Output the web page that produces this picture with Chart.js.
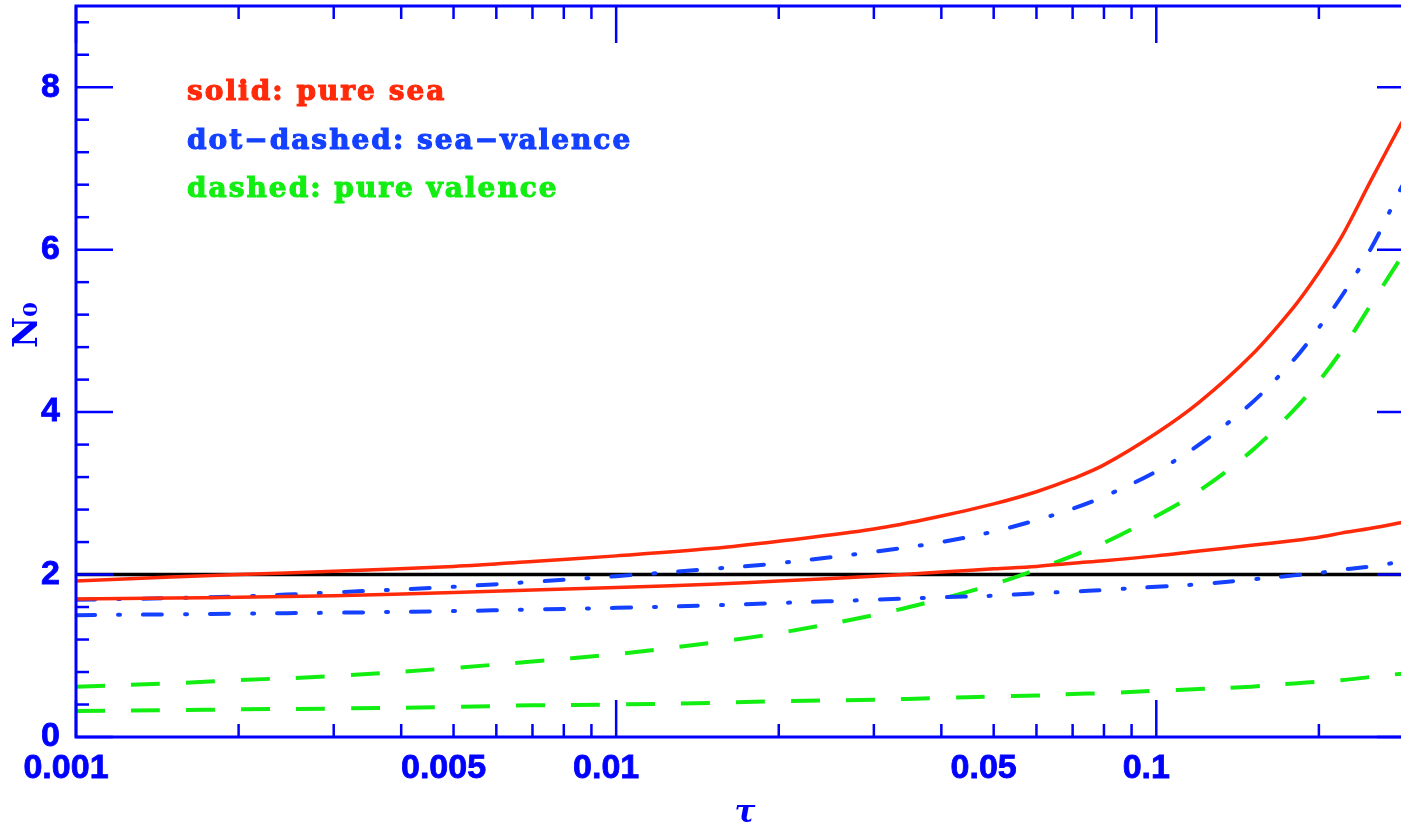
<!DOCTYPE html>
<html>
<head>
<meta charset="utf-8">
<script src="https://cdn.jsdelivr.net/npm/chart.js@4.4.0/dist/chart.umd.min.js"></script>
<style>
  html, body { margin: 0; padding: 0; background: #fff; overflow: hidden; width: 1401px; height: 825px; }
  /* the frame's right edge (tau = 0.3) sits just outside the picture, as in the original */
  #wrap { width: 1414px; height: 825px; }
</style>
</head>
<body>
<div id="wrap"><canvas id="mainChart"></canvas></div>
<script>
// tau values shared by every curve
const tau = [0.001, 0.0015, 0.002, 0.003, 0.005, 0.007, 0.01, 0.015, 0.02, 0.03, 0.04, 0.05,
             0.06, 0.07, 0.08, 0.1, 0.12, 0.15, 0.18, 0.2, 0.22, 0.25, 0.285];

// solid: pure sea
const seaUpper = [1.92, 1.97, 2.00, 2.04, 2.10, 2.16, 2.23, 2.32, 2.41, 2.56, 2.72, 2.87,
                  3.02, 3.18, 3.35, 3.74, 4.12, 4.70, 5.30, 5.72, 6.15, 6.86, 7.57];
const seaLower = [1.70, 1.71, 1.72, 1.74, 1.78, 1.81, 1.84, 1.88, 1.92, 1.98, 2.03, 2.07,
                  2.10, 2.14, 2.17, 2.23, 2.29, 2.36, 2.42, 2.46, 2.51, 2.57, 2.64];
// dot-dashed: sea-valence
const svUpper = [1.69, 1.71, 1.73, 1.78, 1.85, 1.91, 1.98, 2.07, 2.14, 2.28, 2.40, 2.53,
                 2.67, 2.81, 2.96, 3.27, 3.60, 4.11, 4.65, 5.04, 5.42, 6.02, 6.78];
const svLower = [1.50, 1.51, 1.52, 1.53, 1.55, 1.57, 1.59, 1.62, 1.65, 1.69, 1.72, 1.74,
                 1.77, 1.79, 1.81, 1.85, 1.88, 1.94, 1.99, 2.02, 2.06, 2.10, 2.16];
// dashed: pure valence
const pvUpper = [0.62, 0.66, 0.70, 0.75, 0.85, 0.93, 1.02, 1.16, 1.28, 1.50, 1.70, 1.88,
                 2.06, 2.23, 2.39, 2.72, 3.03, 3.52, 4.03, 4.38, 4.75, 5.33, 5.92];
const pvLower = [0.32, 0.33, 0.34, 0.35, 0.37, 0.39, 0.40, 0.42, 0.44, 0.46, 0.48, 0.50,
                 0.51, 0.53, 0.54, 0.57, 0.59, 0.62, 0.66, 0.68, 0.70, 0.74, 0.78];

// reference level N0 = 2
const refTau = [0.001, 0.3];
const refLevel = [2, 2];

// axes
const xTickValues = [0.001, 0.005, 0.01, 0.05, 0.1];
const xTickLabels = ['0.001', '0.005', '0.01', '0.05', '0.1'];
const yTickValues = [0, 2, 4, 6, 8];

const legendLabels = ['solid: pure sea', 'dot\u2212dashed: sea\u2212valence', 'dashed: pure valence'];

const RED = '#ff2a0a';
const BLUE = '#1440ff';
const GREEN = '#12ee12';
const AXIS = '#0000ff';
const legendColors = [RED, BLUE, GREEN];

function pts(ys, xs) {
    return (xs || tau).map((t, i) => ({ x: t, y: ys[i] }));
}

// inward ticks on all four sides, frame, axis titles and the text legend
const framePlugin = {
    id: 'frame',
    afterDraw(chart) {
        const { ctx, chartArea: a, scales: { x, y } } = chart;
        ctx.save();
        ctx.strokeStyle = AXIS;
        ctx.lineCap = 'butt';
        ctx.lineWidth = 2.5;
        const line = (x1, y1, x2, y2) => {
            ctx.beginPath(); ctx.moveTo(x1, y1); ctx.lineTo(x2, y2); ctx.stroke();
        };
        const e0 = Math.floor(Math.log10(x.min)), e1 = Math.ceil(Math.log10(x.max));
        for (let e = e0; e < e1; e++) {
            for (let m = 1; m <= 9; m++) {
                const v = m * Math.pow(10, e);
                if (v < x.min * 0.9999 || v > x.max * 1.0001) continue;
                const px = x.getPixelForValue(v);
                const len = m === 1 ? 37 : 13;
                line(px, a.bottom, px, a.bottom - len);
                line(px, a.top, px, a.top + len);
            }
        }
        for (let i = 0; i * 0.4 <= y.max + 1e-9; i++) {
            const py = y.getPixelForValue(i * 0.4);
            const len = i % 5 === 0 ? 37 : 13;
            line(a.left, py, a.left + len, py);
            line(a.right, py, a.right - len, py);
        }
        ctx.lineWidth = 3;
        ctx.strokeRect(a.left, a.top, a.right - a.left, a.bottom - a.top);

        // axis titles
        ctx.fillStyle = AXIS;
        ctx.textAlign = 'center';
        ctx.textBaseline = 'alphabetic';
        ctx.font = 'italic bold 31px "DejaVu Serif"';
        ctx.fillText('\u03c4', (a.left + a.right) / 2, 822);
        ctx.save();
        ctx.translate(37, 325);
        ctx.rotate(-Math.PI / 2);
        ctx.font = 'bold 34px "DejaVu Serif"';
        ctx.fillText('N\u2080', 0, 0);
        ctx.restore();

        // legend text
        ctx.textAlign = 'left';
        ctx.font = 'bold 28px "DejaVu Serif"';
        ctx.letterSpacing = '2px';
        ctx.lineWidth = 1.1;
        legendLabels.forEach((t, i) => {
            ctx.fillStyle = legendColors[i];
            ctx.strokeStyle = legendColors[i];
            ctx.fillText(t, 187, 100 + i * 48.5);
            ctx.strokeText(t, 187, 100 + i * 48.5);
        });
        ctx.restore();
    }
};

const tickFont = { family: '"Liberation Sans", Arial, sans-serif', size: 34, weight: 'bold' };

new Chart(document.getElementById('mainChart'), {
    type: 'line',
    data: {
        datasets: [
            { label: 'sea upper', data: pts(seaUpper), borderColor: RED, borderWidth: 3.5 },
            { label: 'sea lower', data: pts(seaLower), borderColor: RED, borderWidth: 3.5 },
            { label: 'sea-valence upper', data: pts(svUpper), borderColor: BLUE, borderWidth: 4,
              borderDash: [19, 23, 2, 23], borderCapStyle: 'round' },
            { label: 'sea-valence lower', data: pts(svLower), borderColor: BLUE, borderWidth: 4,
              borderDash: [19, 23, 2, 23], borderCapStyle: 'round' },
            { label: 'valence upper', data: pts(pvUpper), borderColor: GREEN, borderWidth: 4,
              borderDash: [29, 26] },
            { label: 'valence lower', data: pts(pvLower), borderColor: GREEN, borderWidth: 4,
              borderDash: [29, 26] },
            { label: 'N0 = 2', data: pts(refLevel, refTau), borderColor: '#000', borderWidth: 3.5 }
        ]
    },
    options: {
        responsive: true,
        maintainAspectRatio: false,
        animation: false,
        layout: { autoPadding: false, padding: { top: 6, right: 0, left: 0, bottom: 0 } },
        elements: {
            point: { radius: 0 },
            line: { tension: 0.35, fill: false }
        },
        plugins: {
            legend: { display: false },
            tooltip: { enabled: false }
        },
        scales: {
            x: {
                type: 'logarithmic',
                min: 0.001,
                max: 0.3,
                grid: { display: false, drawTicks: false },
                border: { display: false },
                afterBuildTicks: (s) => { s.ticks = xTickValues.map(v => ({ value: v })); },
                afterFit: (s) => { s.height = 88; s.paddingLeft = 0; s.paddingRight = 0; },
                ticks: {
                    autoSkip: false,
                    maxRotation: 0,
                    padding: 11,
                    labelOffset: -10,
                    color: AXIS,
                    textStrokeColor: AXIS,
                    textStrokeWidth: 0.8,
                    font: tickFont,
                    callback: (v) => {
                        const i = xTickValues.indexOf(v);
                        return i >= 0 ? xTickLabels[i] : '';
                    }
                }
            },
            y: {
                min: 0,
                max: 9,
                grid: { display: false, drawTicks: false },
                border: { display: false },
                afterBuildTicks: (s) => { s.ticks = yTickValues.map(v => ({ value: v })); },
                afterFit: (s) => { s.width = 76; s.paddingTop = 0; s.paddingBottom = 0; },
                ticks: {
                    padding: 16,
                    color: AXIS,
                    textStrokeColor: AXIS,
                    textStrokeWidth: 0.8,
                    font: tickFont
                }
            }
        }
    },
    plugins: [framePlugin]
});
</script>
</body>
</html>
